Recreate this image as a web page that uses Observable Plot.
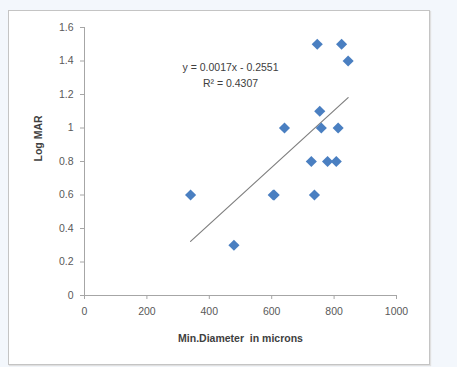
<!DOCTYPE html>
<html>
<head>
<meta charset="utf-8">
<script src="https://cdn.jsdelivr.net/npm/d3@7"></script>
<script src="https://cdn.jsdelivr.net/npm/@observablehq/plot@0.6"></script>
<style>
  html, body { margin: 0; padding: 0; background: #f3f7fc; width: 457px; height: 367px; overflow: hidden; }
  #panel { position: absolute; left: 8px; top: 10px; width: 420px; height: 353px; background: #fff; border: 1px solid #c4c4c4; box-shadow: 1px 1px 1px #e0e0e0; }
  #chart { position: absolute; left: 0; top: 0; }
</style>
</head>
<body>
<div id="panel"></div>
<div id="chart"></div>
<script>
const diameters = [746, 824, 845, 754, 641, 759, 813, 727, 779, 807, 340, 605, 608, 737, 479];
const logMAR    = [1.5, 1.5, 1.4, 1.1, 1.0, 1.0, 1.0, 0.8, 0.8, 0.8, 0.6, 0.6, 0.6, 0.6, 0.3];
const xTicks = [0, 200, 400, 600, 800, 1000];
const yTicks = [0, 0.2, 0.4, 0.6, 0.8, 1, 1.2, 1.4, 1.6];
const trendSlope = [0.0017];
const trendIntercept = [-0.2551];
const equationLines = ["y = 0.0017x - 0.2551", "R² = 0.4307"];

const data = diameters.map((d, i) => ({x: d, y: logMAR[i]}));
const xmin = d3.min(diameters), xmax = d3.max(diameters);
const trend = [xmin, xmax].map(x => ({x, y: trendSlope[0] * x + trendIntercept[0]}));

const font = "Liberation Sans, Arial, sans-serif";
const grey = "#595959";

const chart = Plot.plot({
  width: 457,
  height: 367,
  marginLeft: 84,
  marginRight: 61,
  marginTop: 27,
  marginBottom: 72,
  style: {background: "transparent", fontFamily: font, fontSize: "10px", color: grey},
  x: {type: "linear", domain: [0, 1000], label: null},
  y: {type: "linear", domain: [0, 1.6], label: null},
  marks: [
    Plot.ruleY([0], {stroke: "#a6a6a6"}),
    Plot.ruleX([0], {stroke: "#a6a6a6"}),
    Plot.axisX({ticks: xTicks, tickSize: 4, tickPadding: 8, stroke: "#a6a6a6", fill: grey, fontSize: 10.5, tickFormat: d => String(d), label: null}),
    Plot.axisY({ticks: yTicks, tickSize: 4, tickPadding: 7, stroke: "#a6a6a6", fill: grey, fontSize: 10.5, tickFormat: d => String(+d.toFixed(1)), label: null}),
    Plot.line(trend, {x: "x", y: "y", stroke: "#7f7f7f", strokeWidth: 1.2}),
    Plot.dot(data, {x: "x", y: "y", symbol: "diamond2", r: 5, fill: "#4a7fc1", stroke: "none"}),
    Plot.text([equationLines[0]], {frameAnchor: "top-left", dx: 146, dy: 36, text: d => d, textAnchor: "middle", fill: "#404040", fontSize: 10.5}),
    Plot.text([equationLines[1]], {frameAnchor: "top-left", dx: 146, dy: 52, text: d => d, textAnchor: "middle", fill: "#404040", fontSize: 10.5}),
    Plot.text(["Min.Diameter  in microns"], {frameAnchor: "bottom", dy: 46, text: d => d, fontWeight: "bold", fill: "#404040", fontSize: 10.5}),
    Plot.text(["Log MAR"], {frameAnchor: "left", dx: -46, rotate: -90, text: d => d, fontWeight: "bold", fill: "#404040", fontSize: 10.5})
  ]
});
document.getElementById("chart").appendChild(chart);
</script>
</body>
</html>
